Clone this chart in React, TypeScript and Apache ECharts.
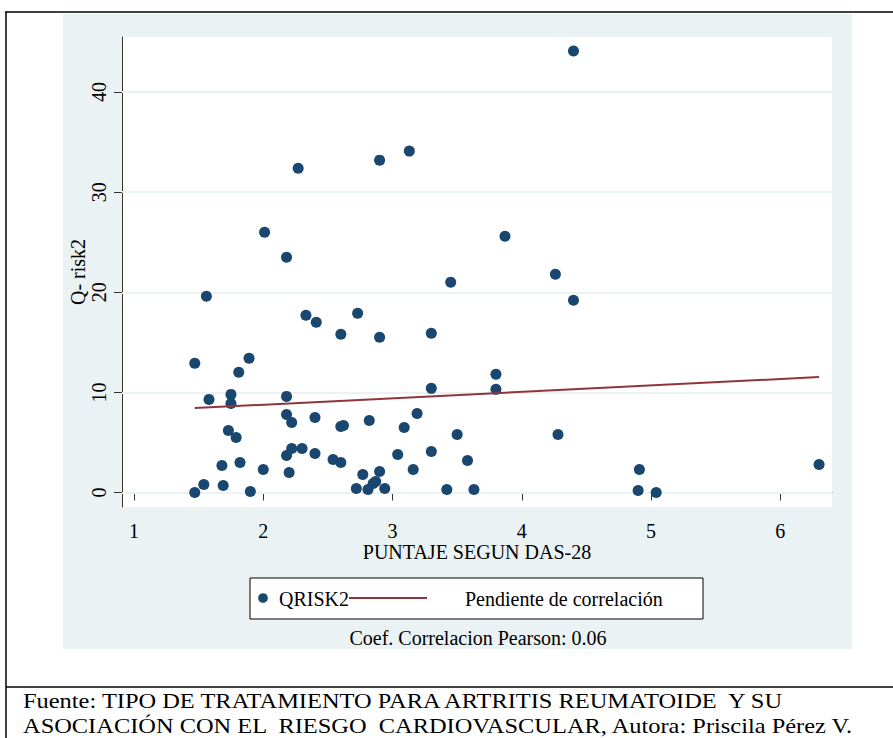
import React, { useEffect, useRef } from "react";
import * as echarts from "echarts";

// DAS-28 score (x) and Q-risk2 (y)
const das28 = [
  2.27, 2.9, 3.13, 2.01, 2.18, 4.4, 3.87, 4.26, 1.56, 3.45,
  2.33, 2.41, 2.73, 2.6, 2.9, 3.3, 1.47, 1.89, 1.81, 3.3,
  1.58, 1.75, 1.75, 2.18, 2.18, 2.22, 2.4, 2.6, 2.62, 2.82,
  3.09, 3.19, 3.5, 1.73, 1.79, 2.22, 2.18, 2.3, 2.4, 2.54,
  2.6, 3.04, 3.3, 3.58, 1.68, 1.82, 2.0, 2.2, 2.77, 2.9,
  3.16, 1.54, 1.69, 1.47, 1.9, 2.72, 2.81, 2.85, 2.87, 2.94,
  3.42, 3.63, 4.4, 3.8, 3.8, 4.28, 4.91, 4.9, 5.04, 6.3,
];
const qrisk2 = [
  32.4, 33.2, 34.1, 26.0, 23.5, 44.1, 25.6, 21.8, 19.6, 21.0,
  17.7, 17.0, 17.9, 15.8, 15.5, 15.9, 12.9, 13.4, 12.0, 10.4,
  9.3, 9.8, 8.9, 9.6, 7.8, 7.0, 7.5, 6.6, 6.7, 7.2,
  6.5, 7.9, 5.8, 6.2, 5.5, 4.4, 3.7, 4.4, 3.9, 3.3,
  3.0, 3.8, 4.1, 3.2, 2.7, 3.0, 2.3, 2.0, 1.8, 2.1,
  2.3, 0.8, 0.7, 0.0, 0.1, 0.4, 0.3, 0.9, 1.1, 0.4,
  0.3, 0.3, 19.2, 11.8, 10.3, 5.8, 2.3, 0.2, 0.0, 2.8,
];

// fitted line (Pendiente de correlación)
const fitX = [1.47, 6.3];
const fitY = [8.43, 11.53];

const xTicks = [1, 2, 3, 4, 5, 6];
const yTicks = [0, 10, 20, 30, 40];
const xRange = [0.907, 6.4];
const yRange = [-1.45, 45.5];

const xTitle = "PUNTAJE SEGUN DAS-28";
const yTitle = "Q- risk2";
const seriesName = "QRISK2";
const fitName = "Pendiente de correlación";
const note = "Coef. Correlacion Pearson: 0.06";
const source1 = "Fuente: TIPO DE TRATAMIENTO PARA ARTRITIS REUMATOIDE  Y SU";
const source2 = "ASOCIACIÓN CON EL  RIESGO  CARDIOVASCULAR, Autora: Priscila Pérez V.";

const FONT = "Liberation Serif";
const NAVY = "#1a476f";
const MAROON = "#90353b";
const PANEL = "#eaf2f3";
const AXIS = "#333333";

export default function App() {
  const ref = useRef<HTMLDivElement>(null);
  useEffect(() => {
    if (!ref.current) return;
    const chart = echarts.init(ref.current, null, { renderer: "svg" });
    const axisText = { fontFamily: FONT, fontSize: 20, color: "#000" };
    const txt = (text: string, x: number, y: number, align: string, size = 20, sx = 1) => ({
      type: "text",
      silent: true,
      x,
      y,
      scaleX: sx,
      style: { text, fontFamily: FONT, fontSize: size, fill: "#000", align, verticalAlign: "middle" },
    });
    chart.setOption({
      animation: false,
      textStyle: { fontFamily: FONT },
      grid: {
        left: 122,
        top: 37,
        width: 710,
        height: 470,
        show: true,
        backgroundColor: "#ffffff",
        borderWidth: 0,
      },
      xAxis: {
        type: "value",
        min: xRange[0],
        max: xRange[1],
        axisLine: { show: true, lineStyle: { color: AXIS, width: 1 } },
        axisTick: { show: true, length: 8, customValues: xTicks, lineStyle: { color: AXIS, width: 1 } },
        axisLabel: { ...axisText, customValues: xTicks, margin: 14 },
        splitLine: { show: false },
        name: xTitle,
        nameLocation: "middle",
        nameGap: 35,
        nameMoveOverlap: false,
        nameTextStyle: axisText,
      },
      yAxis: {
        type: "value",
        min: yRange[0],
        max: yRange[1],
        axisLine: { show: true, lineStyle: { color: AXIS, width: 1 } },
        axisTick: { show: true, length: 8, customValues: yTicks, lineStyle: { color: AXIS, width: 1 } },
        axisLabel: { ...axisText, customValues: yTicks, rotate: 90, margin: 13 },
        splitLine: { show: false },
        name: yTitle,
        nameLocation: "middle",
        nameGap: 34,
        nameRotate: 90,
        nameMoveOverlap: false,
        nameTextStyle: axisText,
      },
      series: [
        {
          name: seriesName,
          type: "scatter",
          symbol: "circle",
          symbolSize: 11,
          itemStyle: { color: NAVY, opacity: 1 },
          data: das28.map((x, i) => [x, qrisk2[i]]),
          z: 2,
          markLine: {
            silent: true,
            z: 1,
            symbol: "none",
            label: { show: false },
            lineStyle: { color: PANEL, width: 2, type: "solid", opacity: 1 },
            data: yTicks.map((v) => ({ yAxis: v })),
          },
        },
        {
          name: fitName,
          type: "line",
          symbol: "none",
          lineStyle: { color: MAROON, width: 2 },
          data: fitX.map((x, i) => [x, fitY[i]]),
          z: 3,
        },
      ],
      graphic: [
        { type: "rect", z: -10, silent: true, shape: { x: 63, y: 14, width: 789, height: 635 }, style: { fill: PANEL } },
        { type: "line", silent: true, shape: { x1: 5, y1: 12, x2: 893, y2: 12 }, style: { stroke: "#000", lineWidth: 1.5 } },
        { type: "line", silent: true, shape: { x1: 6, y1: 12, x2: 6, y2: 738 }, style: { stroke: "#000", lineWidth: 1.5 } },
        { type: "line", silent: true, shape: { x1: 6, y1: 687, x2: 893, y2: 687 }, style: { stroke: "#000", lineWidth: 1.5 } },
        // legend box
        { type: "rect", silent: true, shape: { x: 250, y: 578, width: 453, height: 41 }, style: { fill: "#fff", stroke: "#000", lineWidth: 1 } },
        { type: "circle", silent: true, shape: { cx: 263, cy: 598, r: 4.8 }, style: { fill: NAVY } },
        txt(seriesName, 279, 599, "left"),
        { type: "line", silent: true, shape: { x1: 349, y1: 598, x2: 427, y2: 598 }, style: { stroke: MAROON, lineWidth: 2 } },
        txt(fitName, 465, 599, "left"),
        txt(note, 478, 638, "center"),
        txt(source1, 23, 700, "left", 22, 1.11),
        txt(source2, 23, 725, "left", 22, 1.11),
      ],
    });
    return () => chart.dispose();
  }, []);
  return (
    <div
      ref={ref}
      style={{ position: "absolute", left: 0, top: 0, width: 893, height: 738, background: "#fff" }}
    />
  );
}
